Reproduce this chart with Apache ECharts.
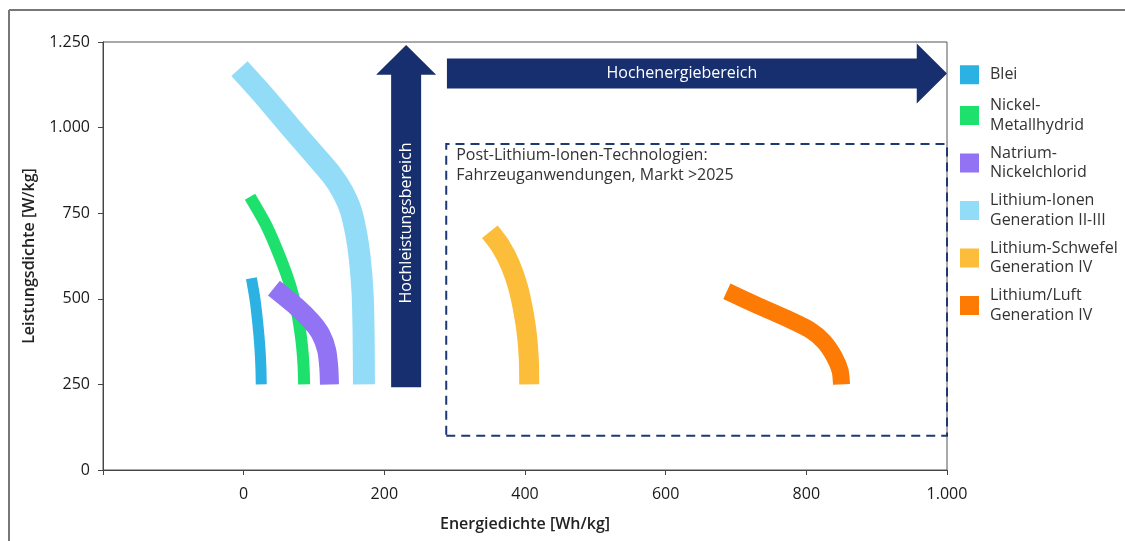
<!DOCTYPE html>
<html><head><meta charset="utf-8">
<script src="https://cdn.jsdelivr.net/npm/echarts@6/dist/echarts.min.js"></script>
<style>html,body{margin:0;padding:0;background:#fff}#c{width:1125px;height:541px}</style>
</head><body><div id="c"></div>
<script>
// ---- data ----
const seriesNames = ['Blei', 'Nickel-\nMetallhydrid', 'Natrium-\nNickelchlorid', 'Lithium-Ionen\nGeneration II-III', 'Lithium-Schwefel\nGeneration IV', 'Lithium/Luft\nGeneration IV'];
const seriesColors = ['#2bb1e2', '#1ee16d', '#9273f4', '#92dcf8', '#fbbd3a', '#fd7a05'];
const bleiData = [[11, 560], [16, 500], [20, 430], [23, 360], [24.5, 300], [25, 250]];
const nimhData = [[9, 798], [33, 711], [52, 620], [66, 540], [76, 460], [82, 380], [85, 310], [86, 250]];
const naniclData = [[43, 531], [75, 477], [97, 432], [110, 395], [118, 350], [121, 300], [122, 250]];
const liIonData = [[-6, 1172], [30, 1090], [65, 1005], [100, 922], [125, 862], [140, 815], [152, 760], [160, 690], [165, 620], [169, 520], [170.5, 400], [171, 250]];
const liSData = [[350, 696], [365, 655], [379, 600], [390, 535], [398, 460], [403, 390], [405.5, 320], [406, 250]];
const liAirData = [[687, 522], [729, 482], [777, 438], [805, 409], [825, 375], [840, 330], [848, 290], [850, 250]];
const xTicks = [-200, 0, 200, 400, 600, 800, 1000];
const yTicks = [0, 250, 500, 750, 1000, 1250];
const postLiBox = [[288, 100], [1000, 952]];
const postLiText = 'Post-Lithium-Ionen-Technologien:\nFahrzeuganwendungen, Markt >2025';
const vArrowText = 'Hochleistungsbereich';
const hArrowText = 'Hochenergiebereich';

const allData = [bleiData, nimhData, naniclData, liIonData, liSData, liAirData];
const widths = [11, 12, 19, 22, 20, 17];

function deFmt(v) {
  const s = String(Math.abs(v));
  return (v < 0 ? '-' : '') + s.replace(/\B(?=(\d{3})+(?!\d))/g, '.');
}

const navy = '#172f6e';
const FONT = 'Open Sans';

const series = allData.map((d, i) => ({
  name: seriesNames[i],
  type: 'line',
  data: d,
  smooth: 0.25,
  showSymbol: false,
  symbol: 'none',
  lineStyle: { width: widths[i], color: seriesColors[i], cap: 'butt', join: 'round' },
  itemStyle: { color: seriesColors[i] },
  emphasis: { disabled: true },
  z: 3
}));
series[0].markArea = {
  silent: true,
  itemStyle: { color: 'rgba(0,0,0,0)', borderColor: '#1e3873', borderWidth: 2, borderType: [9, 6] },
  data: [[{ coord: postLiBox[0] }, { coord: postLiBox[1] }]]
};

const option = {
  animation: false,
  backgroundColor: '#fff',
  textStyle: { fontFamily: FONT },
  grid: { left: 103, right: 178, top: 42, bottom: 71, show: true, borderColor: '#555', borderWidth: 1 },
  xAxis: {
    type: 'value', min: xTicks[0], max: xTicks[xTicks.length - 1], interval: 200,
    name: 'Energiedichte [Wh/kg]', nameLocation: 'middle', nameGap: 46,
    nameTextStyle: { fontFamily: FONT, fontSize: 16, fontWeight: 600, color: '#222' },
    axisLine: { show: true, onZero: false, lineStyle: { color: '#444', width: 1 } },
    axisTick: { show: true, length: 5, lineStyle: { color: '#444' } },
    axisLabel: { margin: 16, fontSize: 16, color: '#1a1a1a', fontFamily: FONT, formatter: v => v === -200 ? '' : deFmt(v) },
    splitLine: { show: false }
  },
  yAxis: {
    type: 'value', min: 0, max: 1250, interval: 250,
    name: 'Leistungsdichte [W/kg]', nameLocation: 'middle', nameGap: 66, nameRotate: 90,
    nameTextStyle: { fontFamily: FONT, fontSize: 16, fontWeight: 600, color: '#222' },
    axisLine: { show: true, onZero: false, lineStyle: { color: '#444', width: 1 } },
    axisTick: { show: true, length: 5, lineStyle: { color: '#444' } },
    axisLabel: { margin: 13, fontSize: 16, color: '#1a1a1a', fontFamily: FONT, formatter: v => deFmt(v) },
    splitLine: { show: false }
  },
  legend: {
    orient: 'vertical', left: 960, top: 62, padding: 0,
    itemWidth: 19, itemHeight: 19, itemGap: 8.5, icon: 'rect',
    textStyle: { fontFamily: FONT, fontSize: 16, lineHeight: 19.5, color: '#333', padding: [0, 0, 0, 6] },
    data: seriesNames.map((n, i) => i === 0 ? { name: n, textStyle: { padding: [3, 0, 3, 6] } } : { name: n })
  },
  series: series
};

const chart = echarts.init(document.getElementById('c'));
chart.setOption(option);

const P = (x, y) => chart.convertToPixel({ gridIndex: 0 }, [x, y]);
// vertical arrow
const vb = P(231, 242), vbase = P(231, 1154), vtip = P(231, 1241);
const cx = vb[0];
const vPoly = [[cx - 15, vb[1]], [cx - 15, vbase[1]], [cx - 30, vbase[1]], [cx, vtip[1]], [cx + 30, vbase[1]], [cx + 15, vbase[1]], [cx + 15, vb[1]]];
// horizontal arrow
const hl = P(289, 1158), hbase = P(957, 1158), htip = P(1000, 1158);
const cy = hl[1];
const hPoly = [[hl[0], cy - 15], [hbase[0], cy - 15], [hbase[0], cy - 30], [htip[0], cy], [hbase[0], cy + 30], [hbase[0], cy + 15], [hl[0], cy + 15]];
const boxTL = P(postLiBox[0][0], postLiBox[1][1]);

chart.setOption({
  graphic: [
    { type: 'line', shape: { x1: 9, y1: 10, x2: 1125, y2: 10 }, style: { stroke: '#777', lineWidth: 2 }, silent: true },
    { type: 'line', shape: { x1: 9, y1: 10, x2: 9, y2: 541 }, style: { stroke: '#777', lineWidth: 2 }, silent: true },
    { type: 'polygon', shape: { points: vPoly }, style: { fill: navy }, z: 5, silent: true },
    { type: 'polygon', shape: { points: hPoly }, style: { fill: navy }, z: 5, silent: true },
    { type: 'text', x: cx, y: (vb[1] + vbase[1]) / 2 - 8, rotation: Math.PI / 2, z: 6, silent: true,
      style: { text: vArrowText, fill: '#fff', font: '16px "Open Sans"', align: 'center', verticalAlign: 'middle' } },
    { type: 'text', x: (hl[0] + hbase[0]) / 2, y: cy, z: 6, silent: true,
      style: { text: hArrowText, fill: '#fff', font: '16px "Open Sans"', align: 'center', verticalAlign: 'middle' } },
    { type: 'text', x: boxTL[0] + 10, y: boxTL[1] + 2, z: 6, silent: true,
      style: { text: postLiText, fill: '#333', font: '16px "Open Sans"', lineHeight: 19.5, align: 'left', verticalAlign: 'top' } }
  ]
});
</script>
</body></html>
